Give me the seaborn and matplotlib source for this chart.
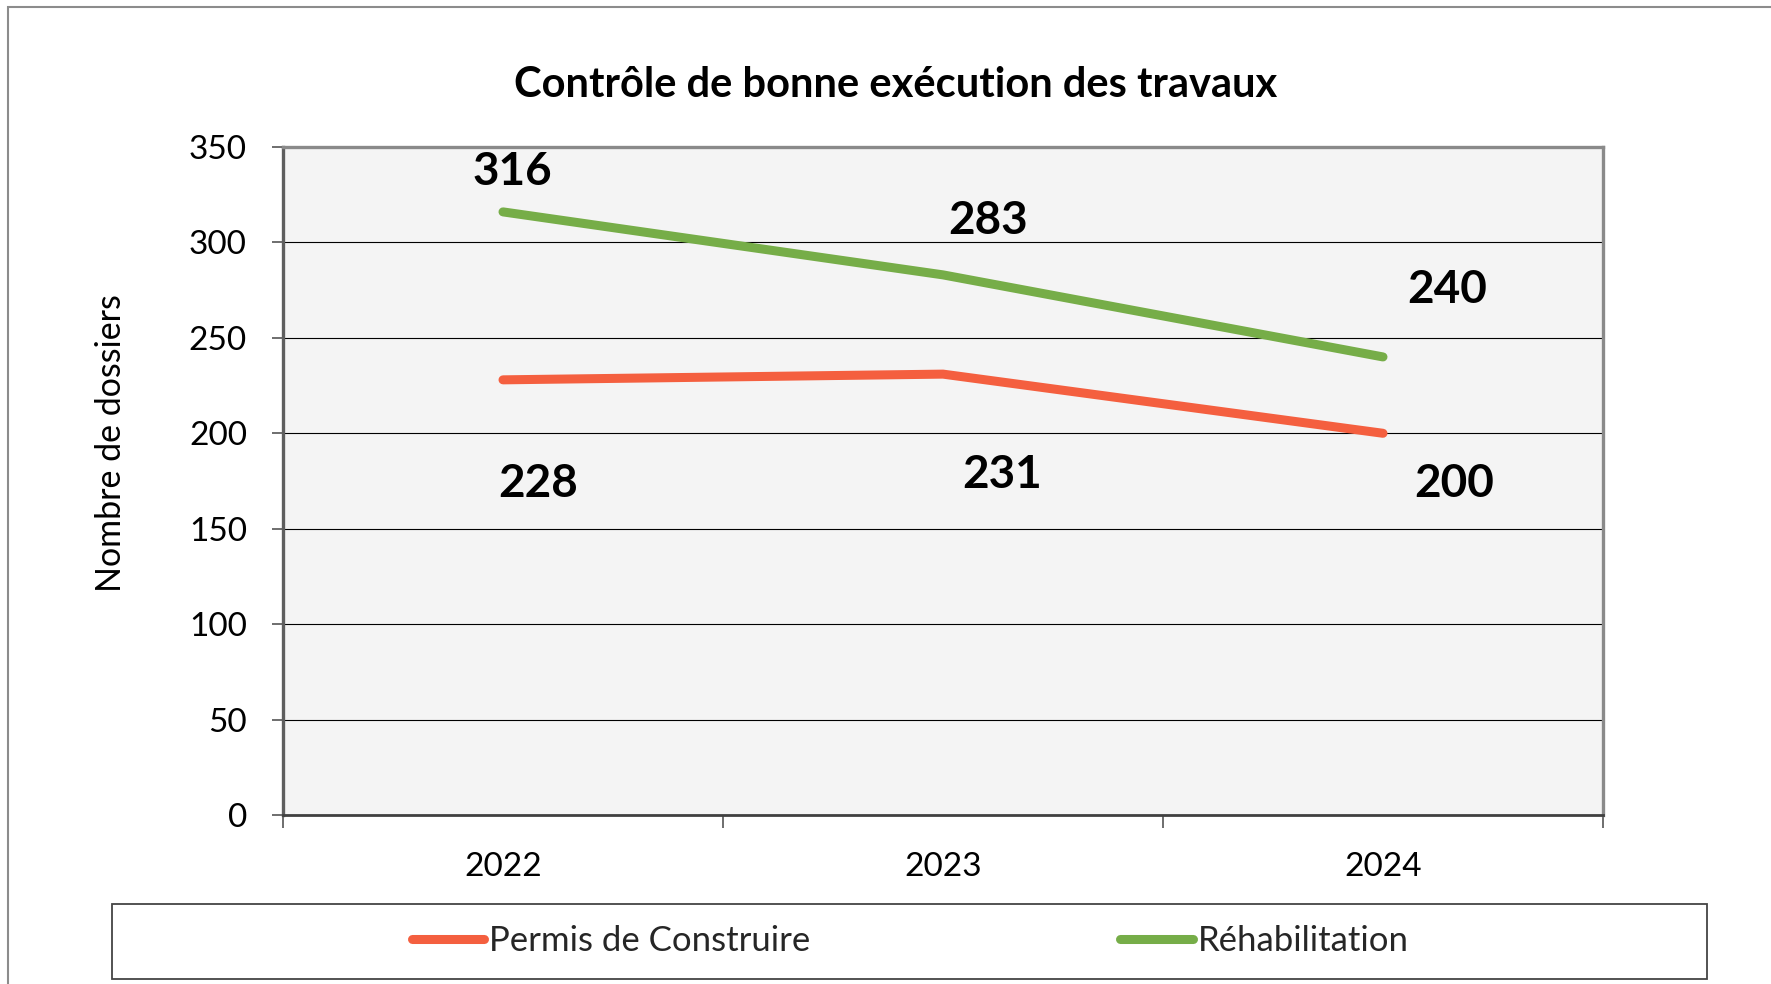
import matplotlib
matplotlib.use("Agg")
import matplotlib.pyplot as plt
from matplotlib.patches import Rectangle
from matplotlib.lines import Line2D
from matplotlib.ticker import FixedLocator, NullFormatter
import seaborn as sns
import pandas as pd

# Data
years = ["2022", "2023", "2024"]
permis = [228, 231, 200]
rehab = [316, 283, 240]
series_names = ["Permis de Construire", "Réhabilitation"]
colors = ["#f45f3f", "#76ad48"]
y_ticks = [0, 50, 100, 150, 200, 250, 300, 350]

df = pd.DataFrame({
    "Année": years * 2,
    "Dossiers": permis + rehab,
    "Série": [series_names[0]] * 3 + [series_names[1]] * 3,
})

sns.set_theme(style="white")
plt.rcParams["font.family"] = ["Lato", "DejaVu Sans"]

W, H = 1771, 984
fig = plt.figure(figsize=(W / 100, H / 100), dpi=100, facecolor="white")
ax = fig.add_axes([283 / W, 1 - 815 / H, 1320 / W, 668 / H])
ax.set_facecolor("#f4f4f4")

sns.lineplot(data=df, x="Année", y="Dossiers", hue="Série",
             palette=dict(zip(series_names, colors)), linewidth=6.5,
             solid_capstyle="round", ax=ax, legend=False, sort=False)

ax.set_xlim(-0.5, 2.5)
ax.set_ylim(0, 350)

# Y axis
ax.set_yticks(y_ticks)
ax.set_yticklabels([str(v) for v in y_ticks], fontsize=24)
ax.tick_params(axis="y", length=8, width=1.2, color="#555555", pad=18,
               left=True, labelcolor="black")
ax.grid(axis="y", color="black", linewidth=0.8)
ax.set_axisbelow(True)
ax.set_ylabel("Nombre de dossiers", fontsize=24.5, color="black")
ax.yaxis.set_label_coords(-0.118, 0.557)

# X axis: boundaries as major ticks, category labels as minor ticks
ax.xaxis.set_major_locator(FixedLocator([-0.5, 0.5, 1.5, 2.5]))
ax.xaxis.set_major_formatter(NullFormatter())
ax.xaxis.set_minor_locator(FixedLocator([0, 1, 2]))
ax.set_xticklabels(years, minor=True, fontsize=24)
ax.tick_params(axis="x", which="major", length=9, width=1.2, color="#555555",
               bottom=True)
ax.tick_params(axis="x", which="minor", length=0, pad=27, labelcolor="black")
ax.set_xlabel("")

# Plot area border
for side, col, lw in [("left", "#5e5e5e", 2.4), ("top", "#8a8a8a", 2.4),
                      ("right", "#8a8a8a", 2.4), ("bottom", "#404040", 2.0)]:
    ax.spines[side].set_visible(True)
    ax.spines[side].set_color(col)
    ax.spines[side].set_linewidth(lw)

# Value labels
offsets_permis = [(35, -104), (59, -101), (71, -51)]
offsets_rehab = [(9, 40), (45, 54), (64, 67)]
for vals, offs in [(permis, offsets_permis), (rehab, offsets_rehab)]:
    for i, (v, off) in enumerate(zip(vals, offs)):
        ax.annotate(str(v), xy=(i, v), xytext=off, textcoords="offset pixels",
                    ha="center", va="center", fontsize=33, fontweight="bold",
                    color="black")

# Title
fig.text(896 / W, 1 - 85 / H, "Contrôle de bonne exécution des travaux",
         ha="center", va="center", fontsize=30, fontweight="bold", color="black")

# Legend with its own frame
handles = [Line2D([], [], color=c, linewidth=6.5, solid_capstyle="round")
           for c in colors]
fig.patches.append(Rectangle((112 / W, 1 - 979 / H), 1595 / W, 75 / H,
                             transform=fig.transFigure, facecolor="white",
                             edgecolor="#444444", linewidth=1.3, zorder=0))
fig.legend(handles, series_names, loc="center",
           bbox_to_anchor=(910 / W, 1 - 941 / H), ncol=2, frameon=False,
           fontsize=25, handlelength=2.1, handletextpad=0.14,
           columnspacing=8.9)

# Outer chart border
fig.patches.append(Rectangle((8 / W, -0.1), 1.2, 1 - 7 / H + 0.1,
                             transform=fig.transFigure, fill=False,
                             edgecolor="#8c8c8c", linewidth=1.5))

fig.savefig("out.png", dpi=100, facecolor="white")
